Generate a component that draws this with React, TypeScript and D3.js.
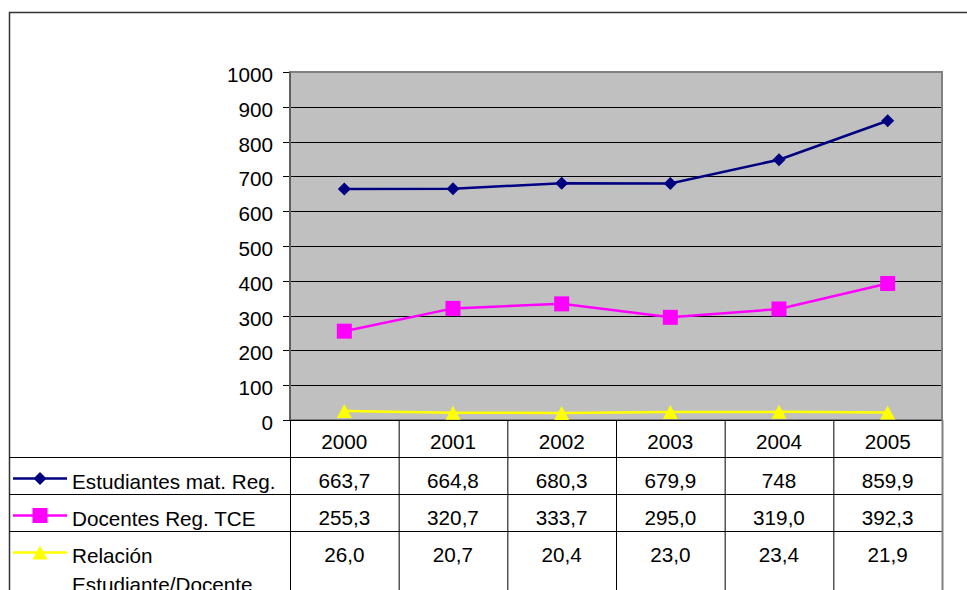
import React from "react";
import * as d3 from "d3";

const years = ["2000", "2001", "2002", "2003", "2004", "2005"];
const estudiantes = [663.7, 664.8, 680.3, 679.9, 748, 859.9];
const docentes = [255.3, 320.7, 333.7, 295.0, 319.0, 392.3];
const relacion = [26.0, 20.7, 20.4, 23.0, 23.4, 21.9];
const yTicks = [0, 100, 200, 300, 400, 500, 600, 700, 800, 900, 1000];

const W = 967;
const H = 590;
const plot = { left: 290, right: 942, top: 72, bottom: 420 };
const rowLines = [420, 457, 494, 531];
const FONT = "'Liberation Sans', Arial, sans-serif";
const FS = 20.7;

type Series = {
  name: string[];
  values: number[];
  color: string;
  marker: "diamond" | "square" | "triangle";
  fmt: (v: number) => string;
};

const series: Series[] = [
  {
    name: ["Estudiantes mat. Reg."],
    values: estudiantes,
    color: "#000080",
    marker: "diamond",
    fmt: (v) => String(v).replace(".", ","),
  },
  {
    name: ["Docentes Reg. TCE"],
    values: docentes,
    color: "#FF00FF",
    marker: "square",
    fmt: (v) => v.toFixed(1).replace(".", ","),
  },
  {
    name: ["Relación", "Estudiante/Docente"],
    values: relacion,
    color: "#FFFF00",
    marker: "triangle",
    fmt: (v) => v.toFixed(1).replace(".", ","),
  },
];

function Marker({ type, x, y, color }: { type: string; x: number; y: number; color: string }) {
  if (type === "diamond") {
    const s = 6.5;
    return <path d={`M${x},${y - s}L${x + s},${y}L${x},${y + s}L${x - s},${y}Z`} fill={color} />;
  }
  if (type === "square") {
    const s = 7.5;
    return <rect x={x - s} y={y - s} width={2 * s} height={2 * s} fill={color} />;
  }
  const s = 7.5;
  return <path d={`M${x},${y - 7}L${x + s},${y + 7}L${x - s},${y + 7}Z`} fill={color} />;
}

export default function App() {
  const x = d3.scaleBand<string>().domain(years).range([plot.left, plot.right]);
  const y = d3.scaleLinear().domain([0, 1000]).range([plot.bottom, plot.top]);
  const cx = (yr: string) => (x(yr) as number) + x.bandwidth() / 2;
  const line = d3
    .line<number>()
    .x((_, i) => cx(years[i]))
    .y((d) => y(d));

  const rowTop = [457, 494, 531];

  return (
    <svg
      width={W}
      height={H}
      style={{ position: "absolute", left: 0, top: 0, background: "#fff" }}
      fontFamily={FONT}
    >
      <rect x={0} y={0} width={W} height={H} fill="#fff" />
      {/* outer chart border */}
      <rect x={9.5} y={12.5} width={W + 20} height={H + 20} fill="none" stroke="#333" strokeWidth={1.5} />

      {/* plot area */}
      <rect
        x={plot.left}
        y={plot.top}
        width={plot.right - plot.left}
        height={plot.bottom - plot.top}
        fill="#C0C0C0"
      />
      {yTicks.map((t) => (
        <g key={t}>
          {t > 0 && t < 1000 && (
            <line x1={plot.left} x2={plot.right} y1={Math.round(y(t)) + 0.5} y2={Math.round(y(t)) + 0.5} stroke="#000" strokeWidth={1} />
          )}
          <line x1={283} x2={plot.left} y1={Math.round(y(t)) + 0.5} y2={Math.round(y(t)) + 0.5} stroke="#000" strokeWidth={1} />
          <text x={273} y={y(t) + 4.5} textAnchor="end" dominantBaseline="middle" fontSize={FS} fill="#000">
            {t}
          </text>
        </g>
      ))}
      <rect
        x={plot.left}
        y={plot.top}
        width={plot.right - plot.left}
        height={plot.bottom - plot.top}
        fill="none"
        stroke="#808080"
        strokeWidth={2}
      />
      <line x1={plot.left} x2={plot.left} y1={plot.top} y2={plot.bottom} stroke="#555" strokeWidth={1.5} />

      {/* series */}
      {series.map((s) => (
        <g key={s.name.join(" ")}>
          <path d={line(s.values) as string} fill="none" stroke={s.color} strokeWidth={2.5} />
          {s.values.map((v, i) => (
            <Marker key={i} type={s.marker} x={cx(years[i])} y={y(v)} color={s.color} />
          ))}
        </g>
      ))}

      {/* data table */}
      {rowLines.map((ry, i) => (
        <line
          key={ry}
          x1={i === 0 ? 283 : 9}
          x2={plot.right}
          y1={ry + 0.5}
          y2={ry + 0.5}
          stroke="#000"
          strokeWidth={1}
        />
      ))}
      {[...years.map((yr) => x(yr) as number), plot.right].map((vx, i) => (
        <line
          key={i}
          x1={vx + 0.5}
          x2={vx + 0.5}
          y1={plot.bottom}
          y2={H}
          stroke={i === years.length ? "#808080" : "#000"}
          strokeWidth={i === years.length ? 2 : 1}
        />
      ))}
      {years.map((yr) => (
        <text key={yr} x={cx(yr)} y={449} textAnchor="middle" fontSize={FS} fill="#000">
          {yr}
        </text>
      ))}
      {series.map((s, r) => (
        <g key={r}>
          <line x1={13} x2={67} y1={rowTop[r] + 21.5} y2={rowTop[r] + 21.5} stroke={s.color} strokeWidth={2.5} />
          <Marker type={s.marker} x={40} y={rowTop[r] + 21.5} color={s.color} />
          {s.name.map((n, k) => (
            <text key={k} x={72} y={rowTop[r] + 32 + k * 28.5} fontSize={FS} fill="#000">
              {n}
            </text>
          ))}
          {s.values.map((v, i) => (
            <text key={i} x={cx(years[i])} y={rowTop[r] + 31} textAnchor="middle" fontSize={FS} fill="#000">
              {s.fmt(v)}
            </text>
          ))}
        </g>
      ))}
    </svg>
  );
}
